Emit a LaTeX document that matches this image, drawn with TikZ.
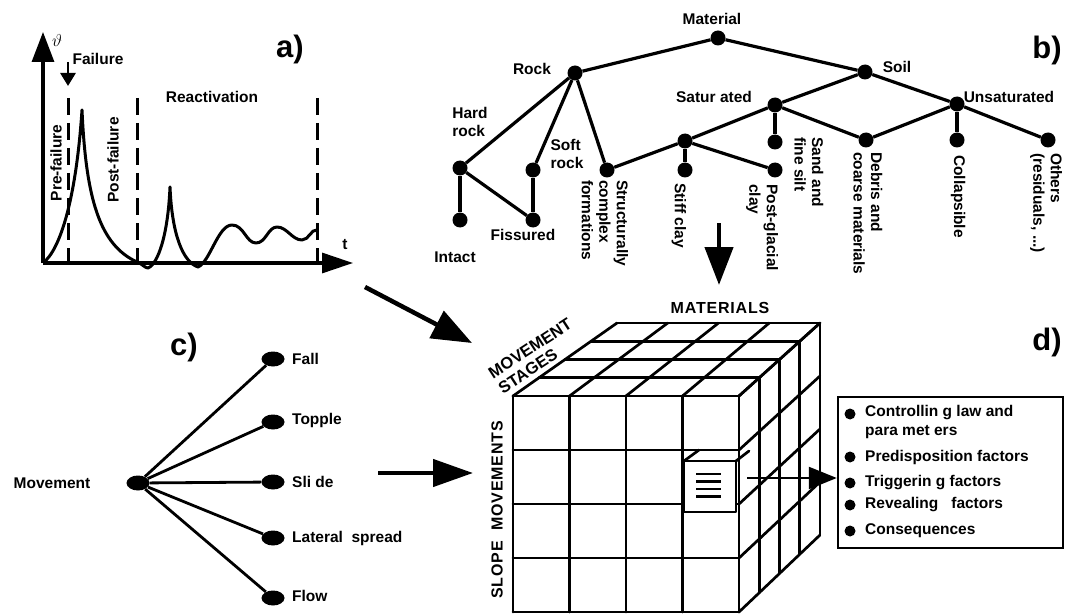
\documentclass[tikz,border=0pt]{standalone}
\usepackage{fontspec}
\setmainfont{Liberation Sans}
\usetikzlibrary{arrows.meta,calc,shapes.geometric}
\begin{document}
\begin{tikzpicture}[x=1pt,y=-1pt,
  lbl/.style={font=\fontsize{15.5}{17.5}\selectfont\bfseries, inner sep=0pt},
  rlbl/.style={lbl, rotate=-90, anchor=west, align=left},
  caps/.style={font=\fontsize{16}{18}\selectfont\bfseries\addfontfeatures{LetterSpace=5}, inner sep=0pt},
  rcaps/.style={font=\fontsize{16.5}{18}\selectfont\bfseries, inner sep=0pt},
  big/.style={font=\fontsize{31}{34}\selectfont\bfseries, inner sep=0pt},
  tdot/.style={circle, fill=black, inner sep=0pt, minimum size=15pt},
  cdot/.style={ellipse, fill=black, inner sep=0pt, minimum width=23pt, minimum height=15pt},
  bul/.style={circle, fill=black, inner sep=0pt, minimum size=11pt},
  tline/.style={line width=3.2pt},
  cline/.style={line width=2.8pt},
  cubeline/.style={line width=2.7pt, line cap=round, line join=round},
  dline/.style={line width=3pt, dash pattern=on 17pt off 8pt},
  curve/.style={line width=3pt, line join=round},
  axisline/.style={line width=3.2pt},
  bigarrow/.style={line width=4.5pt, -{Triangle[length=40pt,width=30pt]}},
]
\useasboundingbox (0,0) rectangle (1074,615);

% ---------------- panel a ----------------
\coordinate (O) at (43,263);
\coordinate (ytip) at (43,32);
\coordinate (xtip) at (353,263);
\draw[axisline, -{Triangle[length=30pt,width=22pt]}] (O) -- (ytip);
\draw[axisline, -{Triangle[length=31pt,width=20pt]}] (O) -- (xtip);
\node[font=\fontsize{17}{18}\selectfont] (vlab) at (57,41) {$\vartheta$};
\node[lbl] (tlab) at (345,245) {t};
\node[big] (alab) at (290,49) {a)};
\node[lbl] (faillab) at (98,59) {Failure};
\coordinate (fa1) at (68,62);
\coordinate (fa2) at (68,86);
\draw[line width=2.8pt, -{Triangle[length=13pt,width=15pt]}] (fa1) -- (fa2);
\draw[dline] (68,98) -- (68,263);
\draw[dline] (137,98) -- (137,263);
\draw[dline] (317,98) -- (317,263);
\node[lbl, rotate=90] (pre) at (56,163) {Pre-failure};
\node[lbl, rotate=90] (post) at (113,160) {Post-failure};
\node[lbl] (react) at (212,97) {Reactivation};
\draw[curve] (43,263) .. controls (60,250) and (76,200) .. (82,110)
  .. controls (86,200) and (100,245) .. (137,262)
  .. controls (141,263) and (145,268) .. (148,268)
  .. controls (158,264) and (168,235) .. (170,187)
  .. controls (172,235) and (183,262) .. (198,267)
  .. controls (210,262) and (218,225) .. (232,225)
  .. controls (244,225) and (246,243) .. (256,243)
  .. controls (266,243) and (268,227) .. (277,227)
  .. controls (287,227) and (292,240) .. (302,240)
  .. controls (309,240) and (311,229) .. (317,230);

% ---------------- panel b ----------------
\node[big] (blab) at (1047,50) {b)};
\node[tdot] (material) at (718,38) {};
\node[tdot] (rock) at (575,73) {};
\node[tdot] (soil) at (865,72) {};
\node[tdot] (sat) at (775,105) {};
\node[tdot] (unsat) at (957,104) {};
\node[tdot] (hard) at (460,168) {};
\node[tdot] (soft) at (533,170) {};
\node[tdot] (intact) at (460,220) {};
\node[tdot] (fiss) at (533,220) {};
\node[tdot] (struct) at (607,170) {};
\node[tdot] (claybr) at (685,141) {};
\node[tdot] (stiff) at (685,170) {};
\node[tdot] (postg) at (775,170) {};
\node[tdot] (sand) at (775,142) {};
\node[tdot] (debris) at (866,140) {};
\node[tdot] (collap) at (957,140) {};
\node[tdot] (others) at (1048,140) {};
\foreach \a/\b in {material/rock, material/soil, rock/hard, rock/soft, rock/struct,
  hard/intact, hard/fiss, soft/fiss, soil/sat, soil/unsat, sat/claybr, claybr/struct,
  claybr/stiff, claybr/postg, sat/sand, sat/debris, unsat/debris, unsat/collap, unsat/others}
  \draw[tline] (\a) -- (\b);
\node[lbl] (lmat) at (712,19) {Material};
\node[lbl] (lrock) at (532,69) {Rock};
\node[lbl] (lsoil) at (897,67) {Soil};
\node[lbl] (lsat) at (714,97) {Satur ated};
\node[lbl] (lunsat) at (1009,97) {Unsaturated};
\node[lbl, align=left] (lhard) at (470,122) {Hard\\rock};
\node[lbl, align=left] (lsoft) at (567,154) {Soft\\rock};
\node[lbl] (lintact) at (455,257) {Intact};
\node[lbl] (lfiss) at (523,235) {Fissured};
\node[rlbl] (lstruct) at (605,180) {Structurally\\complex\\formations};
\node[rlbl] (lstiff) at (679,183) {Stiff clay};
\node[rlbl] (lpost) at (762,184) {Post-glacial\\clay};
\node[rlbl] (lsand) at (809,137) {Sand and\\fine silt};
\node[rlbl] (ldebris) at (868,152) {Debris and\\coarse materials};
\node[rlbl] (lcollap) at (958,155) {Collapsible};
\node[rlbl] (lothers) at (1046,153) {Others\\(residuals, ...)};
\coordinate (da1) at (719,223);
\coordinate (da2) at (719,285);
\draw[line width=4.5pt, -{Triangle[length=38pt,width=28pt]}] (da1) -- (da2);

% ---------------- panel c ----------------
\node[big] (clab) at (184,347) {c)};
\node[cdot] (mv) at (138,483) {};
\node[cdot] (fall) at (273,359) {};
\node[cdot] (topple) at (273,422) {};
\node[cdot] (slide) at (273,482) {};
\node[cdot] (lat) at (273,538) {};
\node[cdot] (flow) at (273,598) {};
\foreach \b in {fall, topple, slide, lat, flow} \draw[cline] (mv) -- (\b);
\node[lbl] (lmv) at (52,483) {Movement};
\node[lbl, anchor=west] (lfall) at (292,359) {Fall};
\node[lbl, anchor=west] (ltop) at (292,420) {Topple};
\node[lbl, anchor=west] (lslide) at (292,482) {Sli de};
\node[lbl, anchor=west] (llat) at (292,538) {Lateral\ \ spread};
\node[lbl, anchor=west] (lflow) at (292,596) {Flow};
\coordinate (g1) at (365,287);
\coordinate (g2) at (472,343);
\draw[bigarrow] (g1) -- (g2);
\coordinate (h1) at (378,473);
\coordinate (h2) at (473,473);
\draw[line width=4.5pt, -{Triangle[length=40pt,width=27pt]}] (h1) -- (h2);

% ---------------- panel d: cube ----------------
\node[big] (dlab) at (1047,342) {d)};
\coordinate (FTL) at (513,396);
\coordinate (FTR) at (739,396);
\coordinate (FBL) at (513,612);
\coordinate (FBR) at (739,612);
\coordinate (BTL) at (617,323);
\coordinate (BTR) at (820,323);
\coordinate (BBR) at (820,535);
\foreach \i in {0,1,2,3,4} {
  \draw[cubeline] ($(FTL)!\i/4!(FTR)$) -- ($(FBL)!\i/4!(FBR)$);
  \draw[cubeline] ($(FTL)!\i/4!(FBL)$) -- ($(FTR)!\i/4!(FBR)$);
  \draw[cubeline] ($(FTL)!\i/4!(FTR)$) -- ($(BTL)!\i/4!(BTR)$);
  \draw[cubeline] ($(FTL)!\i/4!(BTL)$) -- ($(FTR)!\i/4!(BTR)$);
  \draw[cubeline] ($(FTR)!\i/4!(FBR)$) -- ($(BTR)!\i/4!(BBR)$);
  \draw[cubeline] ($(FTR)!\i/4!(BTR)$) -- ($(FBR)!\i/4!(BBR)$);
}
% highlighted element
\draw[cubeline, fill=white] (684,461) rectangle (736,512);
\draw[cubeline] (684,461) -- (699,450);
\draw[cubeline] (736,461) -- (749,451);
\foreach \yy in {474,481.5,489,496.5} \draw[line width=2.2pt] (696,\yy) -- (721,\yy);
\node[caps] (lmaterials) at (720,308) {MATERIALS};
\node[rcaps, rotate=33, align=left] (lmove) at (535,356) {MOVEMENT\\STAGES};
\node[caps, rotate=90] (lslope) at (497,510) {SLOPE\ \ MOVEMENTS};

% ---------------- panel d: box ----------------
\node[draw, line width=2.4pt, minimum width=225pt, minimum height=151pt, inner sep=0pt] (box) at (950.5,472.5) {};
\coordinate (hc) at (747,478);
\draw[line width=2.4pt, -{Triangle[length=28pt,width=22pt]}] (hc) -- (hc -| box.west);
\node[bul] (b1) at (850,414) {};
\node[bul] (b2) at (850,457) {};
\node[bul] (b3) at (850,483) {};
\node[bul] (b4) at (850,505) {};
\node[bul] (b5) at (850,531) {};
\node[lbl, anchor=west] (t1) at (865,413) {Controllin g law and};
\node[lbl, anchor=west] (t1b) at (865,432) {para met ers};
\node[lbl, anchor=west] (t2) at (865,457) {Predisposition factors};
\node[lbl, anchor=west] (t3) at (865,483) {Triggerin g factors};
\node[lbl, anchor=west] (t4) at (865,505) {Revealing\ \ \ factors};
\node[lbl, anchor=west] (t5) at (865,531) {Consequences};
\end{tikzpicture}
\end{document}
